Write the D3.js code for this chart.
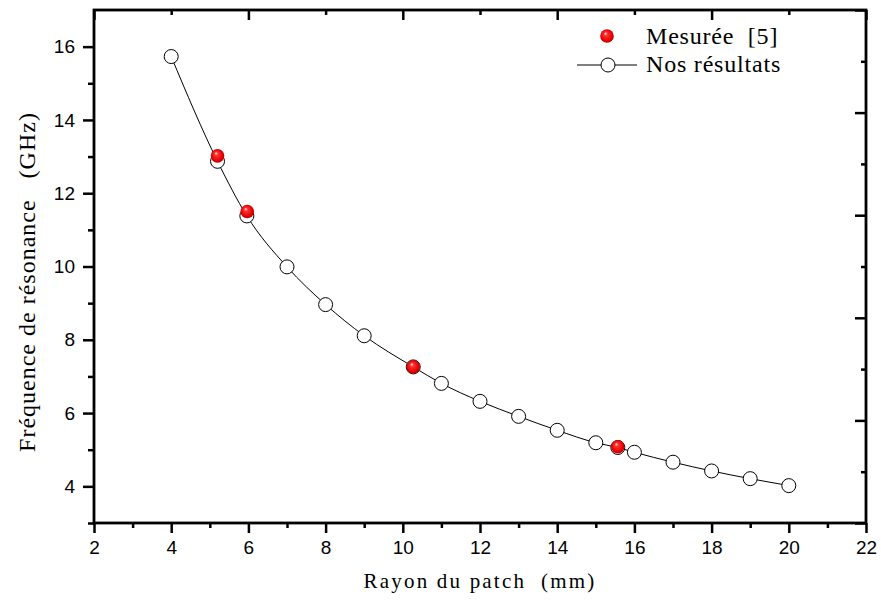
<!DOCTYPE html>
<html>

<head>
    <title>Fréquence de résonance</title>
    <script src="https://d3js.org/d3.v7.min.js"></script>
    <style>
        body { margin: 0; background: #fff; }
        .tick text { font-family: "Liberation Sans", Arial, sans-serif; font-size: 19px; fill: #000; }
        .ttl { font-family: "Liberation Serif", "Times New Roman", serif; fill: #000; white-space: pre; }
    </style>
</head>

<body>
    <svg id="chart"></svg>

    <script>
        // Données
        var rayonCalc = [4, 5.2, 5.96, 7, 8, 9, 10.27, 11, 12, 13, 14, 15, 15.57, 16, 17, 18, 19, 20];
        var freqCalc = [15.73, 12.87, 11.38, 9.99, 8.96, 8.11, 7.26, 6.81, 6.32, 5.91, 5.53, 5.19, 5.06, 4.93, 4.66, 4.42, 4.21, 4.02];

        var rayonMes = [5.2, 5.97, 10.27, 15.57];
        var freqMes = [13.02, 11.5, 7.26, 5.08];

        var xTicks = [2, 4, 6, 8, 10, 12, 14, 16, 18, 20, 22];
        var yTicks = [4, 6, 8, 10, 12, 14, 16];

        var width = 881, height = 603;
        var margin = { top: 10, right: 15, bottom: 80, left: 94 };

        var svg = d3.select("#chart")
            .attr("width", width)
            .attr("height", height);

        var defs = svg.append("defs");
        var grad = defs.append("radialGradient")
            .attr("id", "bille")
            .attr("cx", "50%").attr("cy", "50%").attr("r", "55%")
            .attr("fx", "38%").attr("fy", "30%");
        grad.append("stop").attr("offset", "0%").attr("stop-color", "#fff0f0");
        grad.append("stop").attr("offset", "25%").attr("stop-color", "#ff3030");
        grad.append("stop").attr("offset", "75%").attr("stop-color", "#e80000");
        grad.append("stop").attr("offset", "100%").attr("stop-color", "#9a0000");

        // Echelles
        var x = d3.scaleLinear().domain([2, 22]).range([margin.left, width - margin.right]);
        var y = d3.scaleLinear().domain([3, 17]).range([height - margin.bottom, margin.top]);
        // axes haut et droit (graduations seulement)
        var xTop = d3.scaleLinear().domain([0, 10]).range(x.range());
        var yRight = d3.scaleLinear().domain([0, 10]).range(y.range());

        var x0 = x.range()[0], x1 = x.range()[1];
        var y0 = y.range()[0], y1 = y.range()[1];

        function oddBetween(a, b) {
            var r = [];
            for (var v = a + 1; v < b; v += 2) r.push(v);
            return r;
        }

        // Axe X bas
        svg.append("g")
            .attr("transform", "translate(0," + y0 + ")")
            .call(d3.axisBottom(x).tickValues(xTicks).tickSize(10).tickPadding(8).tickFormat(d3.format("d")));
        svg.append("g")
            .attr("transform", "translate(0," + y0 + ")")
            .call(d3.axisBottom(x).tickValues(oddBetween(2, 22)).tickSize(5).tickFormat(""));

        // Axe Y gauche
        svg.append("g")
            .attr("transform", "translate(" + x0 + ",0)")
            .call(d3.axisLeft(y).tickValues(yTicks).tickSize(11).tickPadding(8).tickFormat(d3.format("d")));
        svg.append("g")
            .attr("transform", "translate(" + x0 + ",0)")
            .call(d3.axisLeft(y).tickValues(oddBetween(2, 17)).tickSize(6).tickFormat(""));

        // Axe haut
        svg.append("g")
            .attr("transform", "translate(0," + y1 + ")")
            .call(d3.axisBottom(xTop).tickValues([0, 2, 4, 6, 8, 10]).tickSize(10).tickFormat(""));
        svg.append("g")
            .attr("transform", "translate(0," + y1 + ")")
            .call(d3.axisBottom(xTop).tickValues(oddBetween(0, 10)).tickSize(5).tickFormat(""));

        // Axe droit
        svg.append("g")
            .attr("transform", "translate(" + x1 + ",0)")
            .call(d3.axisLeft(yRight).tickValues([0, 2, 4, 6, 8, 10]).tickSize(11).tickFormat(""));
        svg.append("g")
            .attr("transform", "translate(" + x1 + ",0)")
            .call(d3.axisLeft(yRight).tickValues(oddBetween(0, 10)).tickSize(5).tickFormat(""));

        svg.selectAll(".domain").remove();
        svg.selectAll(".tick line").attr("stroke", "#000").attr("stroke-width", 2.5);

        // Cadre
        svg.append("rect")
            .attr("x", x0).attr("y", y1)
            .attr("width", x1 - x0).attr("height", y0 - y1)
            .attr("fill", "none").attr("stroke", "#000").attr("stroke-width", 2.8);

        // Courbe calculée
        var pts = rayonCalc.map(function(r, i) { return [r, freqCalc[i]]; });
        var line = d3.line()
            .x(d => x(d[0]))
            .y(d => y(d[1]))
            .curve(d3.curveMonotoneX);

        svg.append("path")
            .datum(pts)
            .attr("d", line)
            .attr("fill", "none")
            .attr("stroke", "#000")
            .attr("stroke-width", 1);

        svg.selectAll(".calc")
            .data(pts)
            .enter().append("circle")
            .attr("class", "calc")
            .attr("cx", d => x(d[0]))
            .attr("cy", d => y(d[1]))
            .attr("r", 7)
            .attr("fill", "#fff")
            .attr("stroke", "#000")
            .attr("stroke-width", 1);

        // Mesures
        svg.selectAll(".mes")
            .data(rayonMes.map(function(r, i) { return [r, freqMes[i]]; }))
            .enter().append("circle")
            .attr("class", "mes")
            .attr("cx", d => x(d[0]))
            .attr("cy", d => y(d[1]))
            .attr("r", 6.8)
            .attr("fill", "url(#bille)");

        // Titres des axes
        svg.append("text")
            .attr("class", "ttl")
            .attr("x", 480)
            .attr("y", 588)
            .attr("text-anchor", "middle")
            .style("font-size", "21px")
            .style("letter-spacing", "2.2px")
            .text("Rayon du patch  (mm)");

        svg.append("text")
            .attr("class", "ttl")
            .attr("transform", "translate(35,282) rotate(-90)")
            .attr("text-anchor", "middle")
            .style("font-size", "24px")
            .style("letter-spacing", "1px")
            .text("Fréquence de résonance   (GHz)");

        // Légende
        var leg = svg.append("g");
        leg.append("circle")
            .attr("cx", 607).attr("cy", 36).attr("r", 6.8)
            .attr("fill", "url(#bille)");
        leg.append("text")
            .attr("class", "ttl")
            .attr("x", 646).attr("y", 44)
            .style("font-size", "24px")
            .style("letter-spacing", "0.8px")
            .text("Mesurée  [5]");
        leg.append("line")
            .attr("x1", 577).attr("x2", 637)
            .attr("y1", 65).attr("y2", 65)
            .attr("stroke", "#000").attr("stroke-width", 1);
        leg.append("circle")
            .attr("cx", 608).attr("cy", 65).attr("r", 7)
            .attr("fill", "#fff").attr("stroke", "#000");
        leg.append("text")
            .attr("class", "ttl")
            .attr("x", 646).attr("y", 72)
            .style("font-size", "24px")
            .style("letter-spacing", "0.8px")
            .text("Nos résultats");
    </script>
</body>

</html>
